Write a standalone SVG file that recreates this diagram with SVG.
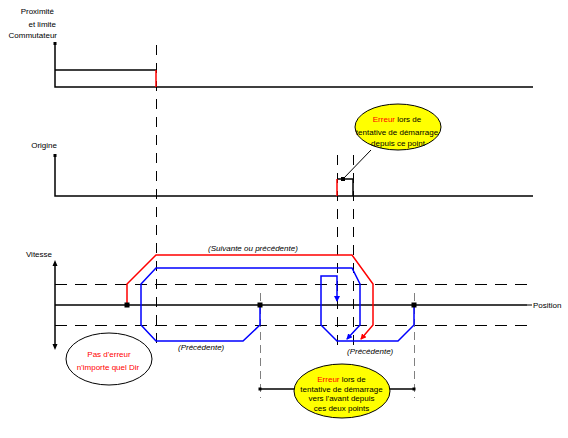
<svg xmlns="http://www.w3.org/2000/svg" width="568" height="438" viewBox="0 0 568 438">
<style>
text{font-family:"Liberation Sans",Arial,sans-serif;font-size:8px;fill:#000}
.lbl{text-anchor:end}
.it{font-style:italic}
.c{text-anchor:middle}
.red{fill:#ff0000}
.ax{stroke:#000;stroke-width:1.5;fill:none}
.dv{stroke:#000;stroke-width:1;stroke-dasharray:10 8;fill:none}
.dh{stroke:#000;stroke-width:1;stroke-dasharray:12 8;fill:none}
.dg{stroke:#808080;stroke-width:1;stroke-dasharray:8 5;fill:none}
.rl{stroke:#ff0000;stroke-width:1.5;fill:none}
.bl{stroke:#0000ff;stroke-width:1.5;fill:none}
</style>
<defs>
<marker id="ar" markerWidth="6" markerHeight="6" refX="5" refY="3" orient="auto" markerUnits="userSpaceOnUse"><path d="M0,0 L6,3 L0,6 z" fill="#ff0000"/></marker>
<marker id="ab" markerWidth="6" markerHeight="6" refX="5" refY="3" orient="auto" markerUnits="userSpaceOnUse"><path d="M0,0 L6,3 L0,6 z" fill="#0000ff"/></marker>
</defs>

<g id="labels">
<text class="lbl" x="54" y="14">Proximité</text>
<text class="lbl" x="56" y="27">et limite</text>
<text class="lbl" x="57" y="38">Commutateur</text>
<text class="lbl" x="57" y="148">Origine</text>
<text class="lbl" x="52" y="257">Vitesse</text>
<text x="533" y="308">Position</text>
<text class="it" x="208" y="251">(Suivante ou précédente)</text>
<text class="it" x="178" y="350">(Précédente)</text>
<text class="it" x="347" y="354">(Précédente)</text>
</g>

<g id="guides">
<line class="dv" x1="156.5" y1="45" x2="156.5" y2="345"/>
<line class="dv" x1="337.5" y1="155" x2="337.5" y2="348"/>
<line class="dv" x1="353.5" y1="155" x2="353.5" y2="348"/>
<line class="dg" x1="260.5" y1="293" x2="260.5" y2="398"/>
<line class="dg" x1="414.5" y1="293" x2="414.5" y2="398"/>
<line class="dh" x1="55" y1="284.5" x2="530" y2="284.5"/>
<line class="dh" x1="55" y1="325.5" x2="530" y2="325.5"/>
</g>

<g id="chart-commutateur">
<path class="ax" d="M55,43 V87 H533"/>
<rect x="53.5" y="42" width="3" height="3"/>
<path class="ax" d="M55,70 H156"/>
<line x1="156" y1="70" x2="156" y2="87" stroke="#ff0000" stroke-width="1.5"/>
</g>

<g id="chart-origine">
<path class="ax" d="M55,155 V196 H533"/>
<rect x="53.5" y="154" width="3" height="3"/>
<path class="ax" d="M337,179 H353 V196"/>
<line x1="337" y1="179" x2="337" y2="196" stroke="#ff0000" stroke-width="1.5"/>
<rect x="341" y="177" width="4" height="4"/>
</g>

<g id="chart-vitesse">
<line class="ax" x1="55" y1="264" x2="55" y2="346"/>
<path d="M52.5,266 L55,260 L57.5,266 z M52.5,344 L55,350 L57.5,344 z"/>
<line class="ax" x1="55" y1="305" x2="527" y2="305"/>
<line x1="527" y1="305" x2="532" y2="305" stroke="#000" stroke-width="1"/>
</g>

<g id="connectors">
<path class="rl" d="M127,305 V284 L156,255 H352 L373,284 V325 L361,339" marker-end="url(#ar)"/>
<path class="bl" d="M260,305 V325 L243,341 H156 L141,325 V284 L156,268 H352 L360,284 V325 L347,339" marker-end="url(#ab)"/>
<path class="bl" d="M414,305 V325 L398,341 H337 L321,325 V276 H337 V301" marker-end="url(#ab)"/>
<line x1="343" y1="179" x2="371" y2="150" stroke="#000" stroke-width="1"/>
<line x1="260" y1="389" x2="414" y2="389" stroke="#000" stroke-width="1.3"/>
<rect x="258.5" y="387.5" width="3" height="3"/>
<rect x="412.5" y="387.5" width="3" height="3"/>
<rect x="124.5" y="302.5" width="5" height="5"/>
<rect x="257.5" y="302.5" width="5" height="5"/>
<rect x="411.5" y="302.5" width="5" height="5"/>
</g>

<g id="bubble-origine">
<ellipse cx="398" cy="127" rx="43" ry="23" fill="#ffff00" stroke="#000" stroke-width="1"/>
<text class="c" x="397" y="122"><tspan class="red">Erreur</tspan> lors de</text>
<text class="c" x="397" y="134.5">tentative de démarrage</text>
<text class="c" x="398" y="146">depuis ce point</text>
</g>

<g id="bubble-points">
<ellipse cx="342" cy="391" rx="48" ry="27" fill="#ffff00" stroke="#000" stroke-width="1"/>
<text class="c" x="341.5" y="381.5"><tspan class="red">Erreur</tspan> lors de</text>
<text class="c" x="341.5" y="391.5">tentative de démarrage</text>
<text class="c" x="341.5" y="401">vers l'avant depuis</text>
<text class="c" x="341.5" y="410.5">ces deux points</text>
</g>

<g id="bubble-pas-erreur">
<ellipse cx="109" cy="359" rx="43" ry="26" fill="#fff" stroke="#000" stroke-width="1"/>
<text class="c red" x="109" y="357">Pas d'erreur</text>
<text class="c red" x="108" y="370">n'importe quel Dir</text>
</g>
</svg>
